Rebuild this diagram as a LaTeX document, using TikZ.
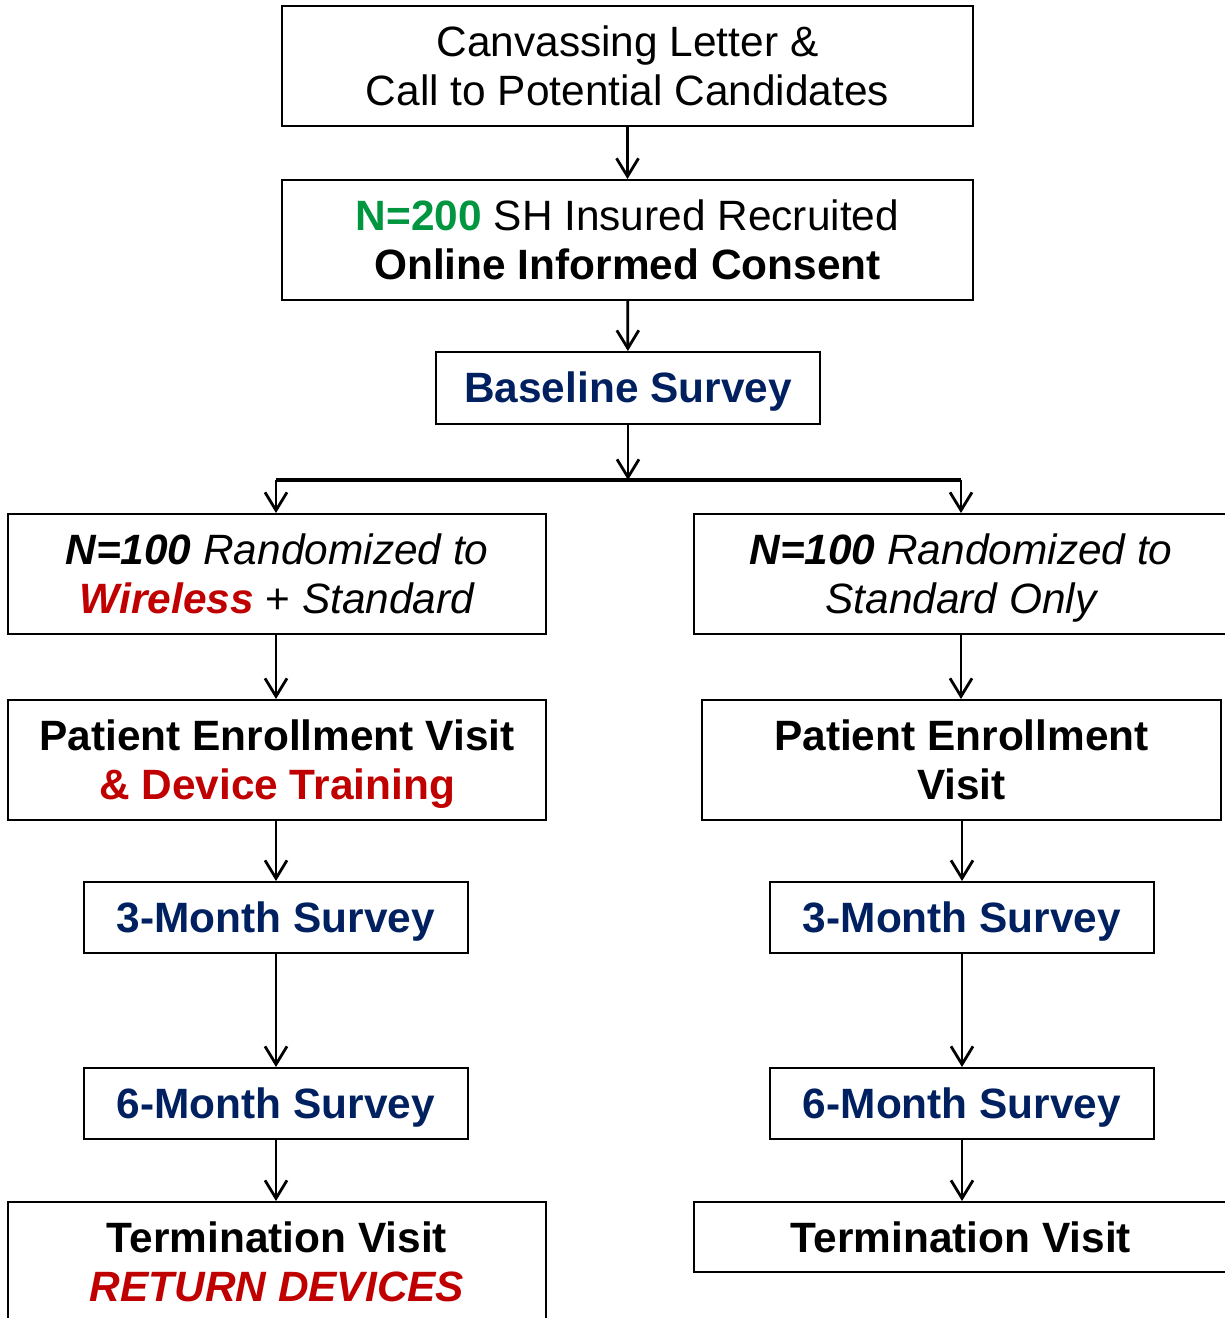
\documentclass[tikz,border=0pt]{standalone}
\usepackage{fontspec}
\setmainfont{Liberation Sans}
\usetikzlibrary{arrows.meta}
\definecolor{navy}{RGB}{0,32,96}
\definecolor{darkred}{RGB}{192,0,0}
\definecolor{okgreen}{RGB}{0,150,64}
\newcommand{\dropstrut}{\rule{0pt}{19.2pt}}

\begin{document}
\begin{tikzpicture}[x=0.5pt, y=-0.5pt,
    box/.style={draw, rectangle, align=center, line width=1pt, inner sep=0pt,
      font=\fontsize{21.2}{24.5}\selectfont},
    wide/.style={box, minimum width=269pt, minimum height=60pt},
    survey/.style={box, minimum width=192pt, minimum height=35.5pt, font=\fontsize{21.2}{24.5}\selectfont\bfseries\color{navy}},
    link/.style={->, line width=1.4pt},
    >={Straight Barb[length=9pt, width=11pt]}]
  \useasboundingbox (0, 0) rectangle (1225, 1318);

  \node[box, minimum width=345.5pt, minimum height=60pt] (letter) at (627.5, 66) {Canvassing Letter \&\\Call to Potential Candidates};
  \node[box, minimum width=345.5pt, minimum height=60pt] (consent) at (627.5, 240) {\textbf{\color{okgreen}N=200} SH Insured Recruited\\\textbf{Online Informed Consent}};
  \node[survey, minimum width=192pt, minimum height=36pt] (baseline) at (628, 388) {\dropstrut Baseline Survey};

  \coordinate (split) at (628, 480);
  \coordinate (splitL) at (276, 480);
  \coordinate (splitR) at (961, 480);

  % wireless arm
  \node[wide] (wireless) at (277, 574) {\textbf{\itshape N=100} \itshape Randomized to\\\textbf{\itshape\color{darkred}Wireless} + \itshape Standard};
  \node[wide] (enrollL) at (277, 760) {\dropstrut\textbf{Patient Enrollment Visit}\\\textbf{\color{darkred}\& Device Training}};
  \node[survey] (threeL) at (276, 917.5) {\dropstrut 3-Month Survey};
  \node[survey] (sixL) at (276, 1103.5) {\dropstrut 6-Month Survey};
  \node[wide] (endL) at (277, 1262) {\textbf{Termination Visit}\\\textbf{\itshape\color{darkred}RETURN DEVICES}};

  % standard arm
  \node[box, minimum width=267pt, minimum height=60pt] (standard) at (961, 574) {\dropstrut\textbf{\itshape N=100} \itshape Randomized to\\\itshape Standard Only};
  \node[box, minimum width=259.5pt, minimum height=60pt] (enrollR) at (961.5, 760) {\textbf{Patient Enrollment}\\\textbf{Visit}};
  \node[survey] (threeR) at (962, 917.5) {\dropstrut 3-Month Survey};
  \node[survey] (sixR) at (962, 1103.5) {\dropstrut 6-Month Survey};
  \node[box, minimum width=267pt, minimum height=35pt] (endR) at (961, 1237) {\textbf{Termination Visit}};

  \draw[link] (letter) -- (consent);
  \draw[link] (consent) -- (baseline);
  \draw[link] (baseline) -- (split);
  \draw[line width=2pt] (splitL) -- (splitR);
  \draw[link] (splitL) -- (splitL |- wireless.north);
  \draw[link] (splitR) -- (splitR |- standard.north);

  \draw[link] ([xshift=-0.5pt]wireless.south) -- ([xshift=-0.5pt]enrollL.north);
  \draw[link] ([xshift=-0.5pt]enrollL.south) -- (threeL);
  \draw[link] (threeL) -- (sixL);
  \draw[link] (sixL) -- (sixL |- endL.north);

  \draw[link] (standard.south) -- (standard.south |- enrollR.north);
  \draw[link] (enrollR.south -| threeR) -- (threeR);
  \draw[link] (threeR) -- (sixR);
  \draw[link] (sixR) -- (sixR |- endR.north);
\end{tikzpicture}
\end{document}
